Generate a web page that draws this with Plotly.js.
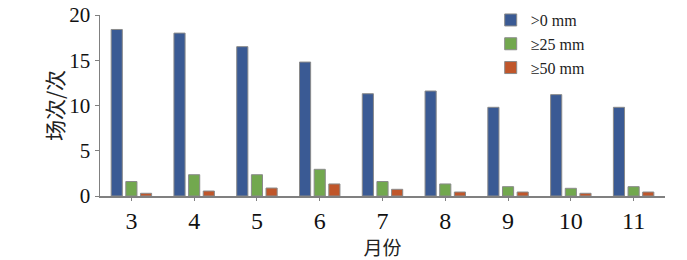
<!DOCTYPE html>
<html><head><meta charset="utf-8">
<script src="https://cdn.plot.ly/plotly-3.0.1.min.js"></script>
<style>html,body{margin:0;padding:0;background:#fff}#chart{width:687px;height:260px}</style>
</head><body><div id="chart"></div>
<script>
const months = ['3','4','5','6','7','8','9','10','11'];
const seriesNames = ['>0 mm','≥25 mm','≥50 mm'];
const over0 = [18.4, 18.0, 16.5, 14.8, 11.3, 11.6, 9.8, 11.2, 9.8];
const over25 = [1.6, 2.35, 2.35, 2.95, 1.6, 1.33, 1.03, 0.85, 1.03];
const over50 = [0.3, 0.55, 0.88, 1.33, 0.74, 0.44, 0.44, 0.3, 0.44];
const yTicks = [0, 5, 10, 15, 20];

const colors = ['#3a5a94', '#72a84e', '#c0562a'];
const vals = [over0, over25, over50];
const data = vals.map((v, i) => ({
  type: 'bar', x: months, y: v, name: seriesNames[i], legendgroup: 'g' + i,
  marker: {color: colors[i], line: {color: '#8a8a8a', width: 1}}
}));
const serif = "'Liberation Serif', 'Times New Roman', serif";
const layout = {
  width: 687, height: 260,
  margin: {l: 100, r: 22, t: 15, b: 64, autoexpand: false},
  paper_bgcolor: '#fff', plot_bgcolor: '#fff',
  barmode: 'group', bargap: 0.3, bargroupgap: 0.24,
  showlegend: true,
  legend: {x: 0.6915, y: 1.066, xanchor: 'left', yanchor: 'top', bgcolor: 'rgba(0,0,0,0)',
    font: {family: serif, size: 16, color: '#222'}, itemwidth: 30, tracegroupgap: 6, traceorder: 'normal'},
  xaxis: {type: 'category', showline: true, linecolor: '#808080', linewidth: 1.5,
    ticks: 'outside', ticklen: 3, tickcolor: '#808080', ticklabelstandoff: 0,
    tickfont: {family: serif, size: 24, color: '#111'}, showgrid: false, zeroline: false,
    title: {text: '月份', font: {family: 'Noto Sans CJK SC', size: 19, color: '#222'}, standoff: 3}},
  yaxis: {range: [0, 20], tickvals: yTicks, showline: true, linecolor: '#808080', linewidth: 1.5,
    ticks: 'outside', ticklen: 4, tickcolor: '#808080',
    tickfont: {family: serif, size: 21, color: '#111'}, showgrid: false, zeroline: false,
    title: {text: '场次/次', font: {family: 'Noto Sans CJK SC', size: 21, color: '#222'}, standoff: 0}}
};
Plotly.newPlot('chart', data, layout, {displayModeBar: false, staticPlot: true});
</script></body></html>
